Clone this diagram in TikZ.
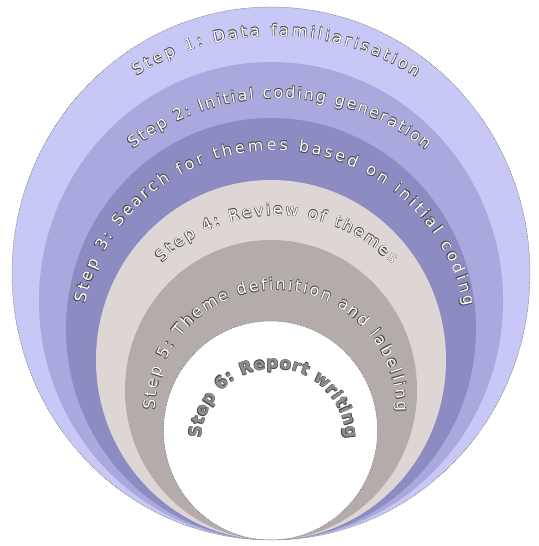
\documentclass[tikz,border=0pt]{standalone}
\usepackage{fontspec}
\usetikzlibrary{decorations.text}
\newfontfamily\famR{DejaVu Sans}
\newfontfamily\famF{DejaVu Sans Bold}
\newcommand\fA{\famR\fontsize{16pt}{19pt}\selectfont\kern2.8pt}
\newcommand\fB{\famR\fontsize{16pt}{19pt}\selectfont\kern1.85pt}
\newcommand\fC{\famR\fontsize{16pt}{19pt}\selectfont\kern2.8pt}
\newcommand\fD{\famR\fontsize{16pt}{19pt}\selectfont\kern2.2pt}
\newcommand\fE{\famR\fontsize{16pt}{19pt}\selectfont\kern2.0pt}
\newcommand\fF{\famF\fontsize{17pt}{20pt}\selectfont\kern0.45pt}
\definecolor{cA}{HTML}{C8C8F6}
\definecolor{cB}{HTML}{A9A9DD}
\definecolor{cC}{HTML}{8C8CC2}
\definecolor{cD}{HTML}{DDD6D4}
\definecolor{cE}{HTML}{B3ACAA}
\definecolor{halo}{HTML}{4A4A4A}
\definecolor{grayfill}{HTML}{8E8E8E}
\newcommand\arctext[7]{%
  \foreach \dx/\dy in {0.45/0.45,-0.45/0.45,0.45/-0.45,-0.45/-0.45}{%
    \path[xshift=\dx pt,yshift=\dy pt,decorate,decoration={text along path,text align=center,text color=halo,text={#6}}]
      (#1,#2) ++(#4:#3) arc[start angle=#4,end angle=#5,radius=#3];
  }%
  \path[decorate,decoration={text along path,text align=center,text color=#7,text={#6}}]
    (#1,#2) ++(#4:#3) arc[start angle=#4,end angle=#5,radius=#3];
}
\tikzset{rim/.style={draw=halo!80,line width=0.5pt,dash pattern=on 0.8pt off 0.8pt}}
\begin{document}
\begin{tikzpicture}[x=1pt,y=1pt]
\useasboundingbox (0,0) rectangle (538,546);
\fill[white] (0,0) rectangle (538,546);
\fill[cA] (271,272.5) ellipse [x radius=259, y radius=266.5];
\fill[cB] (271,245) ellipse [x radius=232, y radius=239];
\fill[cC] (271,217) ellipse [x radius=205, y radius=211];
\fill[cD] (271,186) ellipse [x radius=175, y radius=180];
\fill[cE] (271,156) ellipse [x radius=146, y radius=150];
\fill[white] (270.5,115.5) ellipse [x radius=107, y radius=109.5];
\path[rim] (271,272.5) ellipse [x radius=259, y radius=266.5];
\path[rim] (270.5,115.5) ellipse [x radius=107, y radius=109.5];
\arctext{275}{249}{261}{180}{0}{|\fA|Step 1: Data familiarisation}{white}
\arctext{279}{212}{235.6}{180}{0}{|\fB|Step 2: Initial coding generation}{white}
\arctext{274.5}{202}{193.6}{200}{-20}{|\fC|Step 3: Search for themes based on initial coding}{white}
\arctext{276.5}{169}{161.6}{180}{0}{|\fD|Step 4: Review of themes}{white}
\arctext{276}{135}{121}{215}{-35}{|\fE|Step 5: Theme definition and labelling}{white}
\arctext{274}{105}{72.4}{220}{-40}{|\fF|Step 6: Report writing}{grayfill}
\end{tikzpicture}
\end{document}
